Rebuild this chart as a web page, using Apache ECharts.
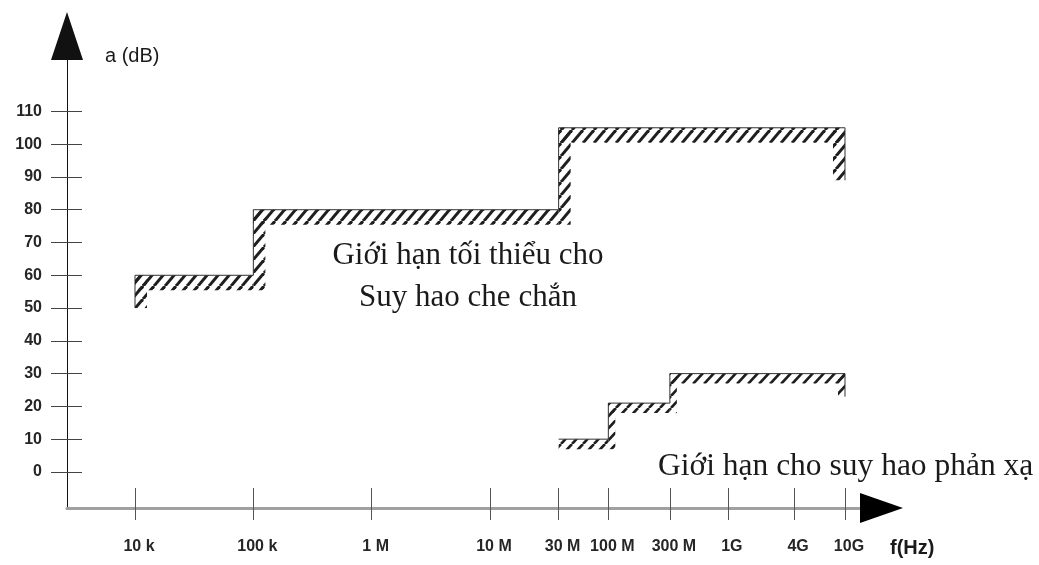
<!DOCTYPE html>
<html><head><meta charset="utf-8">
<script src="https://cdn.jsdelivr.net/npm/echarts@6/dist/echarts.min.js"></script>
<style>html,body{margin:0;padding:0;background:#fff}#c{width:1039px;height:565px}</style>
</head><body><div id="c"></div>
<script>
// ---- data ----
const freqLabels = ['10 k', '100 k', '1 M', '10 M', '30 M', '100 M', '300 M', '1G', '4G', '10G'];
const freqPos = [1, 2, 3, 4, 4.58, 5, 5.52, 6.01, 6.57, 7];
const yTicks = [0, 10, 20, 30, 40, 50, 60, 70, 80, 90, 100, 110];
// minimum shielding attenuation (step boundary)
const shieldFreq = ['10 k', '10 k', '100 k', '100 k', '30 M', '30 M', '10G', '10G'];
const shieldDb = [50, 60, 60, 80, 80, 105, 105, 89];
// reflection attenuation limit (step boundary)
const reflFreq = ['30 M', '100 M', '100 M', '300 M', '300 M', '10G', '10G'];
const reflDb = [10, 10, 21, 21, 30, 30, 23];

function pos(label) { return freqPos[freqLabels.indexOf(label)]; }
function segs(fr, db) {
  const out = [];
  for (let i = 0; i < fr.length - 1; i++) {
    out.push([pos(fr[i]), db[i], pos(fr[i + 1]), db[i + 1], i === 0 ? 1 : 0, i === fr.length - 2 ? 1 : 0]);
  }
  return out;
}
function hatch(w, h, lw, color) {
  const c = document.createElement('canvas');
  c.width = w; c.height = h;
  const g = c.getContext('2d');
  g.strokeStyle = color; g.lineWidth = lw;
  for (const o of [-w, 0, w]) {
    g.beginPath(); g.moveTo(o, h); g.lineTo(o + w, 0); g.stroke();
  }
  return c;
}
const pat = hatch(11, 13, 3, '#1e1e1e');
const patThin = hatch(11, 12, 2.6, '#1e1e1e');

function makeRender(band, strip, pattern) {
  return function (params, api) {
    const x1 = api.value(0), y1 = api.value(1), x2 = api.value(2), y2 = api.value(3);
    const first = api.value(4), last = api.value(5);
    const p1 = api.coord([x1, y1]), p2 = api.coord([x2, y2]);
    let rect;
    if (y1 === y2) {
      rect = { x: Math.min(p1[0], p2[0]), y: p1[1], width: Math.abs(p2[0] - p1[0]), height: band };
    } else if (y2 > y1) {
      const bottom = p1[1] + (first ? 0 : band);
      rect = { x: p1[0], y: p2[1], width: strip, height: bottom - p2[1] };
    } else {
      const bottom = p2[1] + (last ? 0 : band);
      rect = { x: p1[0] - strip, y: p1[1], width: strip, height: bottom - p1[1] };
    }
    return {
      type: 'group', children: [
        { type: 'rect', shape: rect, style: { fill: { image: pattern, repeat: 'repeat' } } },
        { type: 'line', shape: { x1: p1[0], y1: p1[1], x2: p2[0], y2: p2[1] }, style: { stroke: '#333', lineWidth: 1 } }
      ]
    };
  };
}

const chart = echarts.init(document.getElementById('c'), null, { renderer: 'canvas' });
const xMin = 0.4253, xMax = 7.3085;
function fmtX(v) {
  for (let i = 0; i < freqPos.length; i++) if (Math.abs(freqPos[i] - v) < 1e-6) return freqLabels[i];
  return '';
}
chart.setOption({
  animation: false,
  backgroundColor: '#fff',
  grid: { left: 67, right: 157.5, top: 36, bottom: 57, containLabel: false },
  xAxis: [
    {
      type: 'value', min: xMin, max: xMax, position: 'bottom',
      splitLine: { show: false },
      axisLine: { onZero: false, lineStyle: { color: '#a0a0a0', width: 3 } },
      axisTick: { show: true, inside: false, length: 12, customValues: freqPos, lineStyle: { color: '#555', width: 1 } },
      axisLabel: {
        customValues: freqPos, formatter: fmtX, margin: 31, padding: [0, 0, 0, 8],
        color: '#262626', fontFamily: 'Liberation Sans', fontWeight: 'bold', fontSize: 16
      }
    },
    {
      type: 'value', min: xMin, max: xMax, position: 'bottom',
      splitLine: { show: false },
      axisLine: { onZero: false, symbol: ['none', 'triangle'], symbolSize: [30, 43], lineStyle: { color: '#000', width: 0 } },
      axisTick: { show: true, inside: true, length: 20, customValues: freqPos, lineStyle: { color: '#555', width: 1 } },
      axisLabel: { show: false }
    }
  ],
  yAxis: [
    {
      type: 'value', min: -11, max: 133, position: 'left',
      splitLine: { show: false },
      axisLine: { onZero: false, symbol: ['none', 'triangle'], symbolSize: [32, 48], lineStyle: { color: '#111', width: 1 } },
      axisTick: { show: true, inside: false, length: 16, customValues: yTicks, lineStyle: { color: '#444', width: 1 } },
      axisLabel: {
        customValues: yTicks, margin: 25,
        color: '#262626', fontFamily: 'Liberation Sans', fontWeight: 'bold', fontSize: 16
      }
    },
    {
      type: 'value', min: -11, max: 133, position: 'left',
      splitLine: { show: false },
      axisLine: { show: false, onZero: false },
      axisTick: { show: true, inside: true, length: 15, customValues: yTicks, lineStyle: { color: '#444', width: 1 } },
      axisLabel: { show: false }
    }
  ],
  series: [
    {
      name: 'shield', type: 'custom', xAxisIndex: 0, yAxisIndex: 0,
      renderItem: makeRender(15, 12, pat),
      encode: { x: [0, 2], y: [1, 3] },
      data: segs(shieldFreq, shieldDb), clip: false
    },
    {
      name: 'reflection', type: 'custom', xAxisIndex: 0, yAxisIndex: 0,
      renderItem: makeRender(10, 7, patThin),
      encode: { x: [0, 2], y: [1, 3] },
      data: segs(reflFreq, reflDb), clip: false
    }
  ],
  graphic: [
    { type: 'text', x: 105, y: 56, style: { text: 'a (dB)', font: '20px "Liberation Sans"', fill: '#1a1a1a', align: 'left', verticalAlign: 'middle' } },
    { type: 'text', x: 890, y: 548, style: { text: 'f(Hz)', font: 'bold 20px "Liberation Sans"', fill: '#1a1a1a', align: 'left', verticalAlign: 'middle' } },
    { type: 'text', x: 468, y: 256, style: { text: 'Giới hạn tối thiểu cho', font: '31px "Liberation Serif"', fill: '#1a1a1a', align: 'center', verticalAlign: 'middle' } },
    { type: 'text', x: 468, y: 298, style: { text: 'Suy hao che chắn', font: '31px "Liberation Serif"', fill: '#1a1a1a', align: 'center', verticalAlign: 'middle' } },
    { type: 'text', x: 658, y: 467, style: { text: 'Giới hạn cho suy hao phản xạ', font: '31.5px "Liberation Serif"', fill: '#1a1a1a', align: 'left', verticalAlign: 'middle' } }
  ]
});
</script></body></html>
